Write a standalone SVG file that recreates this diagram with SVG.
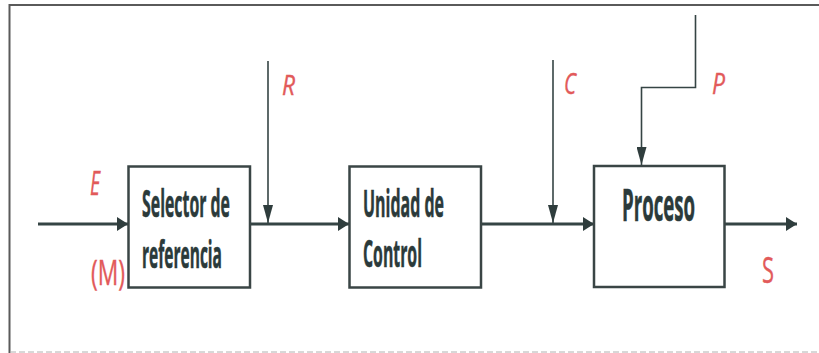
<svg xmlns="http://www.w3.org/2000/svg" width="819" height="353" viewBox="0 0 819 353">
  <style>
    .box { fill: #ffffff; stroke: #3a4545; stroke-width: 2.5; }
    .lbl { font-family: "Open Sans", "Liberation Sans", sans-serif; font-weight: 700; fill: #2b3a3a; stroke: #2b3a3a; stroke-width: 0.6; }
    .sig { font-family: "Open Sans", "Liberation Sans", sans-serif; fill: #e25a5a; stroke: #e25a5a; stroke-width: 0.4; }
    .main { stroke: #354444; stroke-width: 3; fill: none; }
    .feed { stroke: #354444; stroke-width: 1.6; fill: none; }
    .frame { stroke: #5a5a5a; stroke-width: 2; fill: none; }
  </style>
  <defs>
    <marker id="headMain" markerUnits="userSpaceOnUse" viewBox="0 0 11 14" markerWidth="11" markerHeight="14" refX="11" refY="7" orient="auto">
      <path d="M0,0 L11,7 L0,14 Z" fill="#2f3d3d"/>
    </marker>
    <marker id="headDown" markerUnits="userSpaceOnUse" viewBox="0 0 18 10" markerWidth="18" markerHeight="10" refX="18" refY="5" orient="auto">
      <path d="M0,0 L18,5 L0,10 Z" fill="#2f3d3d"/>
    </marker>
  </defs>

  <rect width="819" height="353" fill="#ffffff"/>

  <!-- frame -->
  <path class="frame" d="M819,5 H9.5 V353"/>
  <line x1="10" y1="352" x2="819" y2="352" stroke="#b0b0b0" stroke-width="1" stroke-dasharray="6 3"/>

  <!-- connectors -->
  <g id="connectors">
    <line class="main" x1="38" y1="224" x2="128" y2="224" marker-end="url(#headMain)"/>
    <line class="main" x1="250" y1="224" x2="349" y2="224" marker-end="url(#headMain)"/>
    <line class="main" x1="481" y1="224" x2="594" y2="224" marker-end="url(#headMain)"/>
    <line class="main" x1="725" y1="224" x2="797" y2="224" marker-end="url(#headMain)"/>
    <line class="feed" x1="268" y1="61" x2="268" y2="223" marker-end="url(#headDown)"/>
    <line class="feed" x1="553" y1="60" x2="553" y2="223" marker-end="url(#headDown)"/>
    <polyline class="feed" points="695.5,15 695.5,87.5 641.5,87.5 641.5,165" stroke-width="2.2" marker-end="url(#headDown)"/>
  </g>

  <!-- nodes -->
  <g id="selector">
    <rect class="box" x="128.5" y="166.5" width="121.5" height="121"/>
    <text class="lbl" x="142" y="217" font-size="37" textLength="88" lengthAdjust="spacingAndGlyphs">Selector de</text>
    <text class="lbl" x="142" y="268" font-size="37" textLength="80" lengthAdjust="spacingAndGlyphs">referencia</text>
  </g>

  <g id="unidad-control">
    <rect class="box" x="349.5" y="166.5" width="131.5" height="121"/>
    <text class="lbl" x="363" y="217" font-size="37" textLength="81" lengthAdjust="spacingAndGlyphs">Unidad de</text>
    <text class="lbl" x="363" y="267" font-size="37" textLength="59" lengthAdjust="spacingAndGlyphs">Control</text>
  </g>

  <g id="proceso">
    <rect class="box" x="594" y="166" width="130.5" height="121"/>
    <text class="lbl" x="622" y="221" font-size="44" textLength="73" lengthAdjust="spacingAndGlyphs">Proceso</text>
  </g>

  <!-- signal labels -->
  <g id="signals">
    <text class="sig" x="90" y="195" font-size="33" font-style="italic" textLength="10" lengthAdjust="spacingAndGlyphs">E</text>
    <text class="sig" x="91" y="285" font-size="35" textLength="34" lengthAdjust="spacingAndGlyphs">(M)</text>
    <text class="sig" x="282" y="95" font-size="28" font-style="italic" textLength="13" lengthAdjust="spacingAndGlyphs">R</text>
    <text class="sig" x="564" y="94" font-size="30" font-style="italic" textLength="12" lengthAdjust="spacingAndGlyphs">C</text>
    <text class="sig" x="712" y="94" font-size="30" font-style="italic" textLength="13" lengthAdjust="spacingAndGlyphs">P</text>
    <text class="sig" x="762" y="283" font-size="36" textLength="12" lengthAdjust="spacingAndGlyphs">S</text>
  </g>
</svg>
